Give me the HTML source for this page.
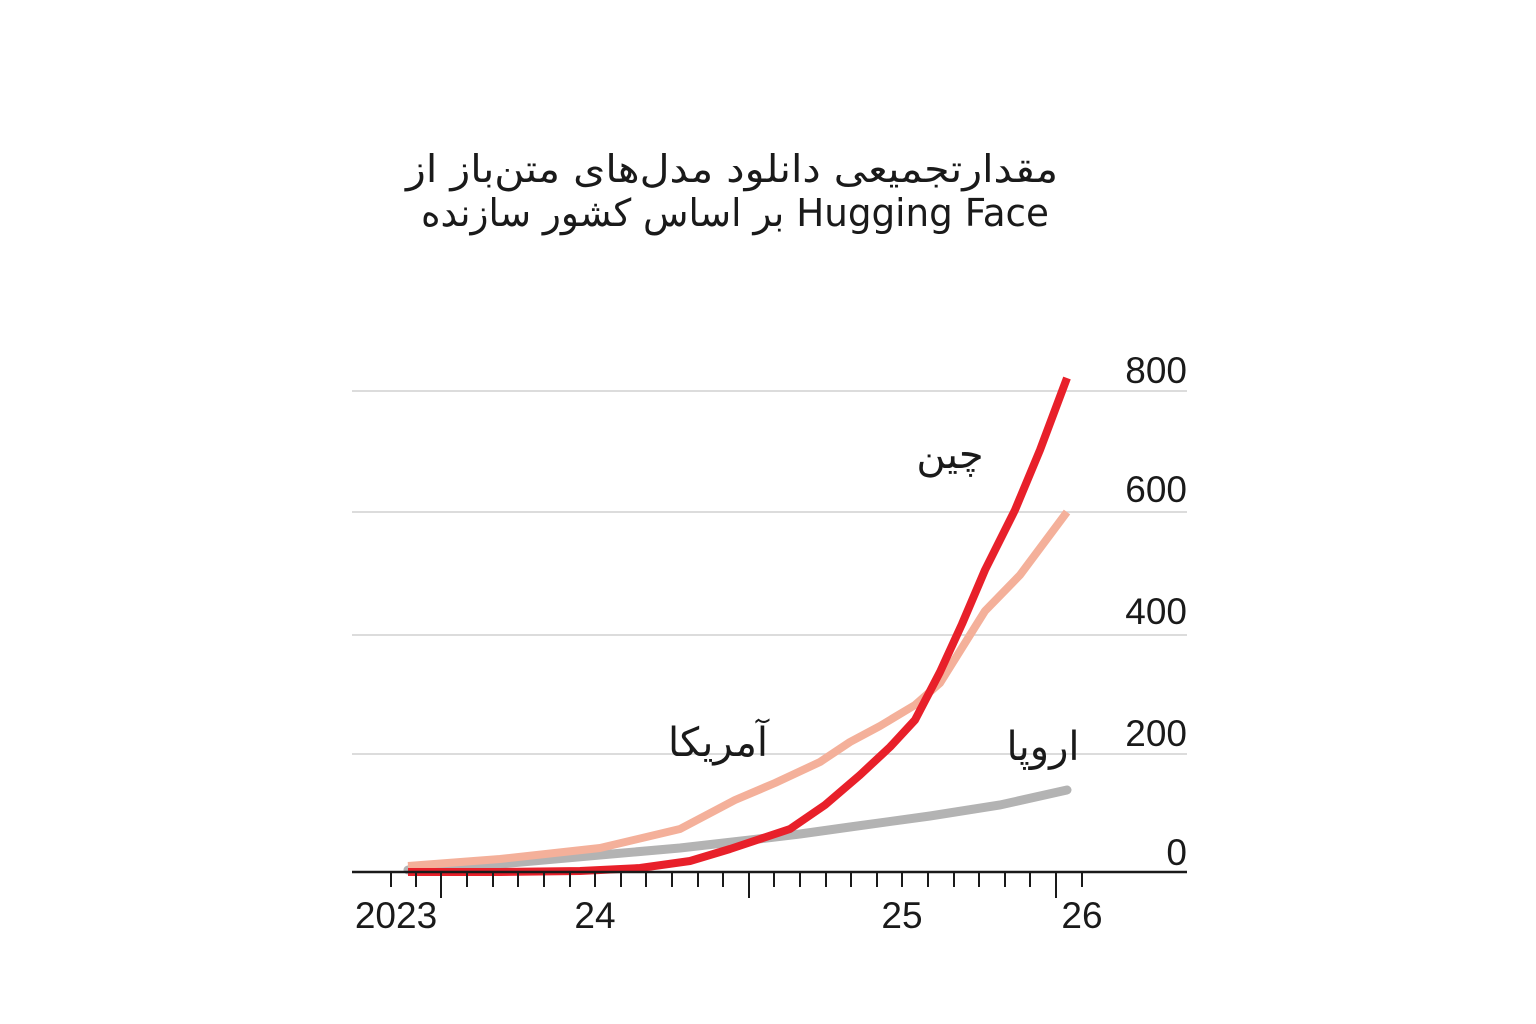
<!DOCTYPE html>
<html><head><meta charset="utf-8"><style>
html,body{margin:0;padding:0;background:#fff;}
svg{display:block}
.t{font-family:"DejaVu Sans","Liberation Sans",sans-serif;fill:#1a1a1a}
.n{font-family:"Liberation Sans",sans-serif;fill:#1a1a1a;font-size:37px}
</style></head><body>
<svg width="1536" height="1024" viewBox="0 0 1536 1024" xmlns="http://www.w3.org/2000/svg">
<text class="t" x="732" y="182" font-size="38" text-anchor="middle" direction="rtl" textLength="652" lengthAdjust="spacingAndGlyphs">مقدارتجمیعی دانلود مدل‌های متن‌باز از</text>
<text class="t" x="735" y="226" font-size="38" text-anchor="middle" direction="rtl" textLength="628" lengthAdjust="spacingAndGlyphs">Hugging Face بر اساس کشور سازنده</text>
<g stroke="#d0d0d0" stroke-width="1.5">
<line x1="352" y1="391" x2="1187" y2="391"/>
<line x1="352" y1="512" x2="1187" y2="512"/>
<line x1="352" y1="635" x2="1187" y2="635"/>
<line x1="352" y1="754" x2="1187" y2="754"/>
</g>
<g class="n" text-anchor="end">
<text x="1187" y="383">800</text>
<text x="1187" y="502">600</text>
<text x="1187" y="624">400</text>
<text x="1187" y="746">200</text>
<text x="1187" y="865">0</text>
</g>
<polyline fill="none" stroke="#b3b3b3" stroke-width="9" stroke-linecap="round" points="408,870 500,864 600,855 680,848 750,840 800,834 850,827 930,816 1000,805 1067,790"/>
<polyline fill="none" stroke="#f4b09a" stroke-width="8" stroke-linejoin="round" points="408,866 500,859 600,848 680,829 735,800 775,783 820,762 850,742 880,726 915,705 940,683 985,611 1020,575 1067,512"/>
<polyline fill="none" stroke="#e8202a" stroke-width="8" stroke-linejoin="round" points="408,872 500,872 580,871 640,868 690,861 730,849 760,839 790,829 825,805 860,775 890,747 915,720 940,672 962,624 985,570 1015,510 1040,450 1067,378"/>
<line x1="352" y1="872" x2="1187" y2="872" stroke="#1a1a1a" stroke-width="2.5"/>
<g stroke="#1a1a1a" stroke-width="2">
<line x1="391" y1="872" x2="391" y2="887"/><line x1="416" y1="872" x2="416" y2="887"/><line x1="441" y1="872" x2="441" y2="898"/><line x1="467" y1="872" x2="467" y2="887"/><line x1="493" y1="872" x2="493" y2="887"/><line x1="518" y1="872" x2="518" y2="887"/><line x1="544" y1="872" x2="544" y2="887"/><line x1="570" y1="872" x2="570" y2="887"/><line x1="595" y1="872" x2="595" y2="887"/><line x1="621" y1="872" x2="621" y2="887"/><line x1="646" y1="872" x2="646" y2="887"/><line x1="672" y1="872" x2="672" y2="887"/><line x1="698" y1="872" x2="698" y2="887"/><line x1="723" y1="872" x2="723" y2="887"/><line x1="749" y1="872" x2="749" y2="898"/><line x1="774" y1="872" x2="774" y2="887"/><line x1="800" y1="872" x2="800" y2="887"/><line x1="826" y1="872" x2="826" y2="887"/><line x1="851" y1="872" x2="851" y2="887"/><line x1="877" y1="872" x2="877" y2="887"/><line x1="902" y1="872" x2="902" y2="887"/><line x1="928" y1="872" x2="928" y2="887"/><line x1="954" y1="872" x2="954" y2="887"/><line x1="979" y1="872" x2="979" y2="887"/><line x1="1005" y1="872" x2="1005" y2="887"/><line x1="1030" y1="872" x2="1030" y2="887"/><line x1="1056" y1="872" x2="1056" y2="898"/><line x1="1082" y1="872" x2="1082" y2="887"/>
</g>
<g class="n" text-anchor="middle">
<text x="396" y="928">2023</text>
<text x="595" y="928">24</text>
<text x="902" y="928">25</text>
<text x="1082" y="928">26</text>
</g>
<text class="t" x="950" y="468" font-size="40" text-anchor="middle" direction="rtl">چین</text>
<text class="t" x="718" y="756" font-size="40" text-anchor="middle" direction="rtl">آمریکا</text>
<text class="t" x="1043" y="760" font-size="40" text-anchor="middle" direction="rtl">اروپا</text>
</svg>
</body></html>
